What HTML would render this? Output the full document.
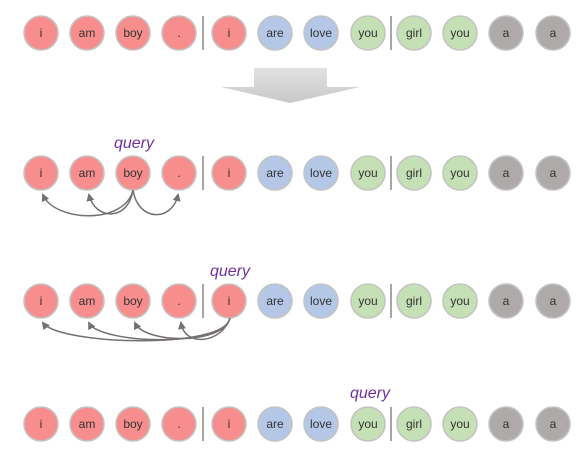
<!DOCTYPE html>
<html><head><style>
html,body{margin:0;padding:0;background:#fff;width:585px;height:454px;overflow:hidden}
svg text{font-family:"Liberation Sans","DejaVu Sans",sans-serif}
</style></head><body>
<svg width="585" height="454" viewBox="0 0 585 454" xmlns="http://www.w3.org/2000/svg">
<defs>
<symbol id="row" overflow="visible">
<g stroke="#c4c4c4" stroke-width="1.6">
<circle cx="41" cy="0" r="17" fill="#f88d8d"/>
<circle cx="87" cy="0" r="17" fill="#f88d8d"/>
<circle cx="133" cy="0" r="17" fill="#f88d8d"/>
<circle cx="179" cy="0" r="17" fill="#f88d8d"/>
<circle cx="229" cy="0" r="17" fill="#f88d8d"/>
<circle cx="275" cy="0" r="17" fill="#b4c7e7"/>
<circle cx="321" cy="0" r="17" fill="#b4c7e7"/>
<circle cx="368" cy="0" r="17" fill="#c5e0b4"/>
<circle cx="414" cy="0" r="17" fill="#c5e0b4"/>
<circle cx="460" cy="0" r="17" fill="#c5e0b4"/>
<circle cx="506" cy="0" r="17" fill="#aeaaaa"/>
<circle cx="553" cy="0" r="17" fill="#aeaaaa"/>
</g>
<rect x="202" y="-17" width="2" height="34" fill="#a6a6a6"/>
<rect x="390" y="-17" width="2" height="34" fill="#a6a6a6"/>
<g font-size="12" fill="#333" text-anchor="middle">
<text x="41" y="4">i</text><text x="87" y="4">am</text><text x="133" y="4">boy</text><text x="179" y="4">.</text>
<text x="229" y="4">i</text><text x="275" y="4">are</text><text x="321" y="4">love</text><text x="368" y="4">you</text>
<text x="414" y="4">girl</text><text x="460" y="4">you</text><text x="506" y="4">a</text><text x="553" y="4">a</text>
</g>
</symbol>
<marker id="ah" markerWidth="8" markerHeight="8" refX="6" refY="4" orient="auto" markerUnits="userSpaceOnUse">
<path d="M0,0 L8,4 L0,8 z" fill="#767171"/>
</marker>
<linearGradient id="gg" x1="0" y1="0" x2="0" y2="1"><stop offset="0" stop-color="#e2e2e2"/><stop offset="1" stop-color="#c8c8c8"/></linearGradient>
</defs>
<use href="#row" x="0" y="33"/>
<use href="#row" x="0" y="173"/>
<use href="#row" x="0" y="301"/>
<use href="#row" x="0" y="424"/>

<path d="M254,68 H327 V87 H360 L290,103 L221,87 H254 Z" fill="url(#gg)"/>

<g font-size="16" font-style="italic" font-weight="500" fill="#7030a0" text-anchor="middle">
<text x="134" y="148">query</text>
<text x="230" y="276">query</text>
<text x="370" y="398">query</text>
</g>

<g fill="none" stroke="#767171" stroke-width="1.5" marker-end="url(#ah)">
<path d="M133,190 C125,225 55,222 43,195"/>
<path d="M133,190 C128,222 95,220 89,195"/>
<path d="M133,190 C138,222 172,222 178,195"/>
<path d="M230,318 C225,350 60,345 43,323"/>
<path d="M230,318 C224,348 100,344 89,323"/>
<path d="M230,318 C223,345 145,344 135,323"/>
<path d="M230,318 C222,343 185,348 181,323"/>
</g>
</svg>
</body></html>
